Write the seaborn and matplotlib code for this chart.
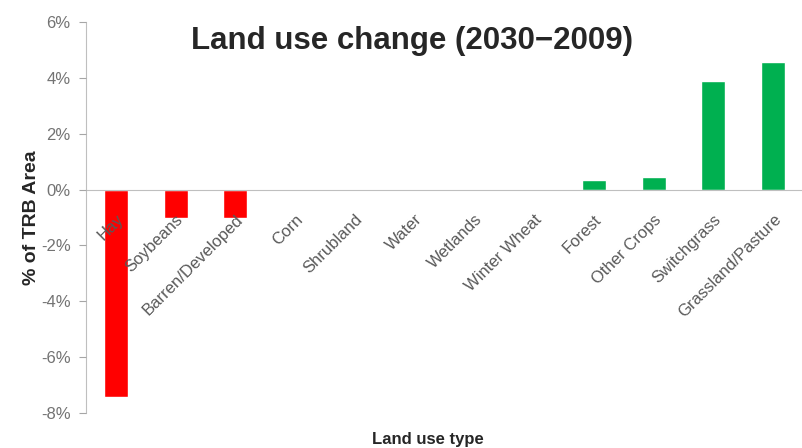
import matplotlib.pyplot as plt
import numpy as np
import pandas as pd
import seaborn as sns
from matplotlib.ticker import FuncFormatter

# Land use categories and change (% of TRB area)
land_use = ['Hay', 'Soybeans', 'Barren/Developed', 'Corn', 'Shrubland', 'Water',
            'Wetlands', 'Winter Wheat', 'Forest', 'Other Crops', 'Switchgrass',
            'Grassland/Pasture']
change_pct = [-7.43, -1.0, -1.0, 0.0, 0.0, 0.0, 0.0, 0.0, 0.36, 0.46, 3.9, 4.58]

df = pd.DataFrame({'land_use': land_use, 'change': change_pct})
bar_colors = ['#FF0000' if v < 0 else '#00B050' for v in change_pct]

sns.set_style('white')
plt.rcParams['font.family'] = ['Liberation Sans', 'DejaVu Sans']

fig = plt.figure(figsize=(8.03, 4.48), dpi=100)
ax = fig.add_axes([0.107, 0.078, 0.893, 0.873])

sns.barplot(data=df, x='land_use', y='change', hue='land_use', palette=bar_colors,
            legend=False, width=0.4, saturation=1, ax=ax)

ax.set_ylim(-8, 6)
ax.set_xlim(-0.5, 11.5)
ax.set_yticks(np.arange(-8, 7, 2))
ax.yaxis.set_major_formatter(FuncFormatter(lambda v, _: f'{v:.0f}%'))
ax.tick_params(axis='y', colors='#A6A6A6', labelsize=12, length=5, direction='out',
               left=True, pad=6)
ax.tick_params(axis='y', labelcolor='#737373')

# category axis sits at zero, labels drawn above the bars
ax.set_axisbelow(False)
ax.spines['bottom'].set_position(('data', 0))
ax.spines['bottom'].set_color('#BFBFBF')
ax.spines['left'].set_color('#BFBFBF')
ax.spines['top'].set_visible(False)
ax.spines['right'].set_visible(False)
ax.tick_params(axis='x', length=0, pad=16)
ax.set_xticks(range(len(land_use)))
ax.set_xticklabels(land_use, rotation=45, ha='right', rotation_mode='anchor',
                   fontsize=12, color='#595959')

ax.set_xlabel('')
ax.set_ylabel('% of TRB Area', fontsize=14, fontweight='bold', color='#262626', labelpad=1)
fig.text(0.533, 0.01, 'Land use type', ha='center', fontsize=12, fontweight='bold',
         color='#262626')
ax.set_title('Land use change (2030\u22122009)', fontsize=22.5, fontweight='bold',
             x=0.455, y=0.91)

fig.savefig('out.png', dpi=100)
